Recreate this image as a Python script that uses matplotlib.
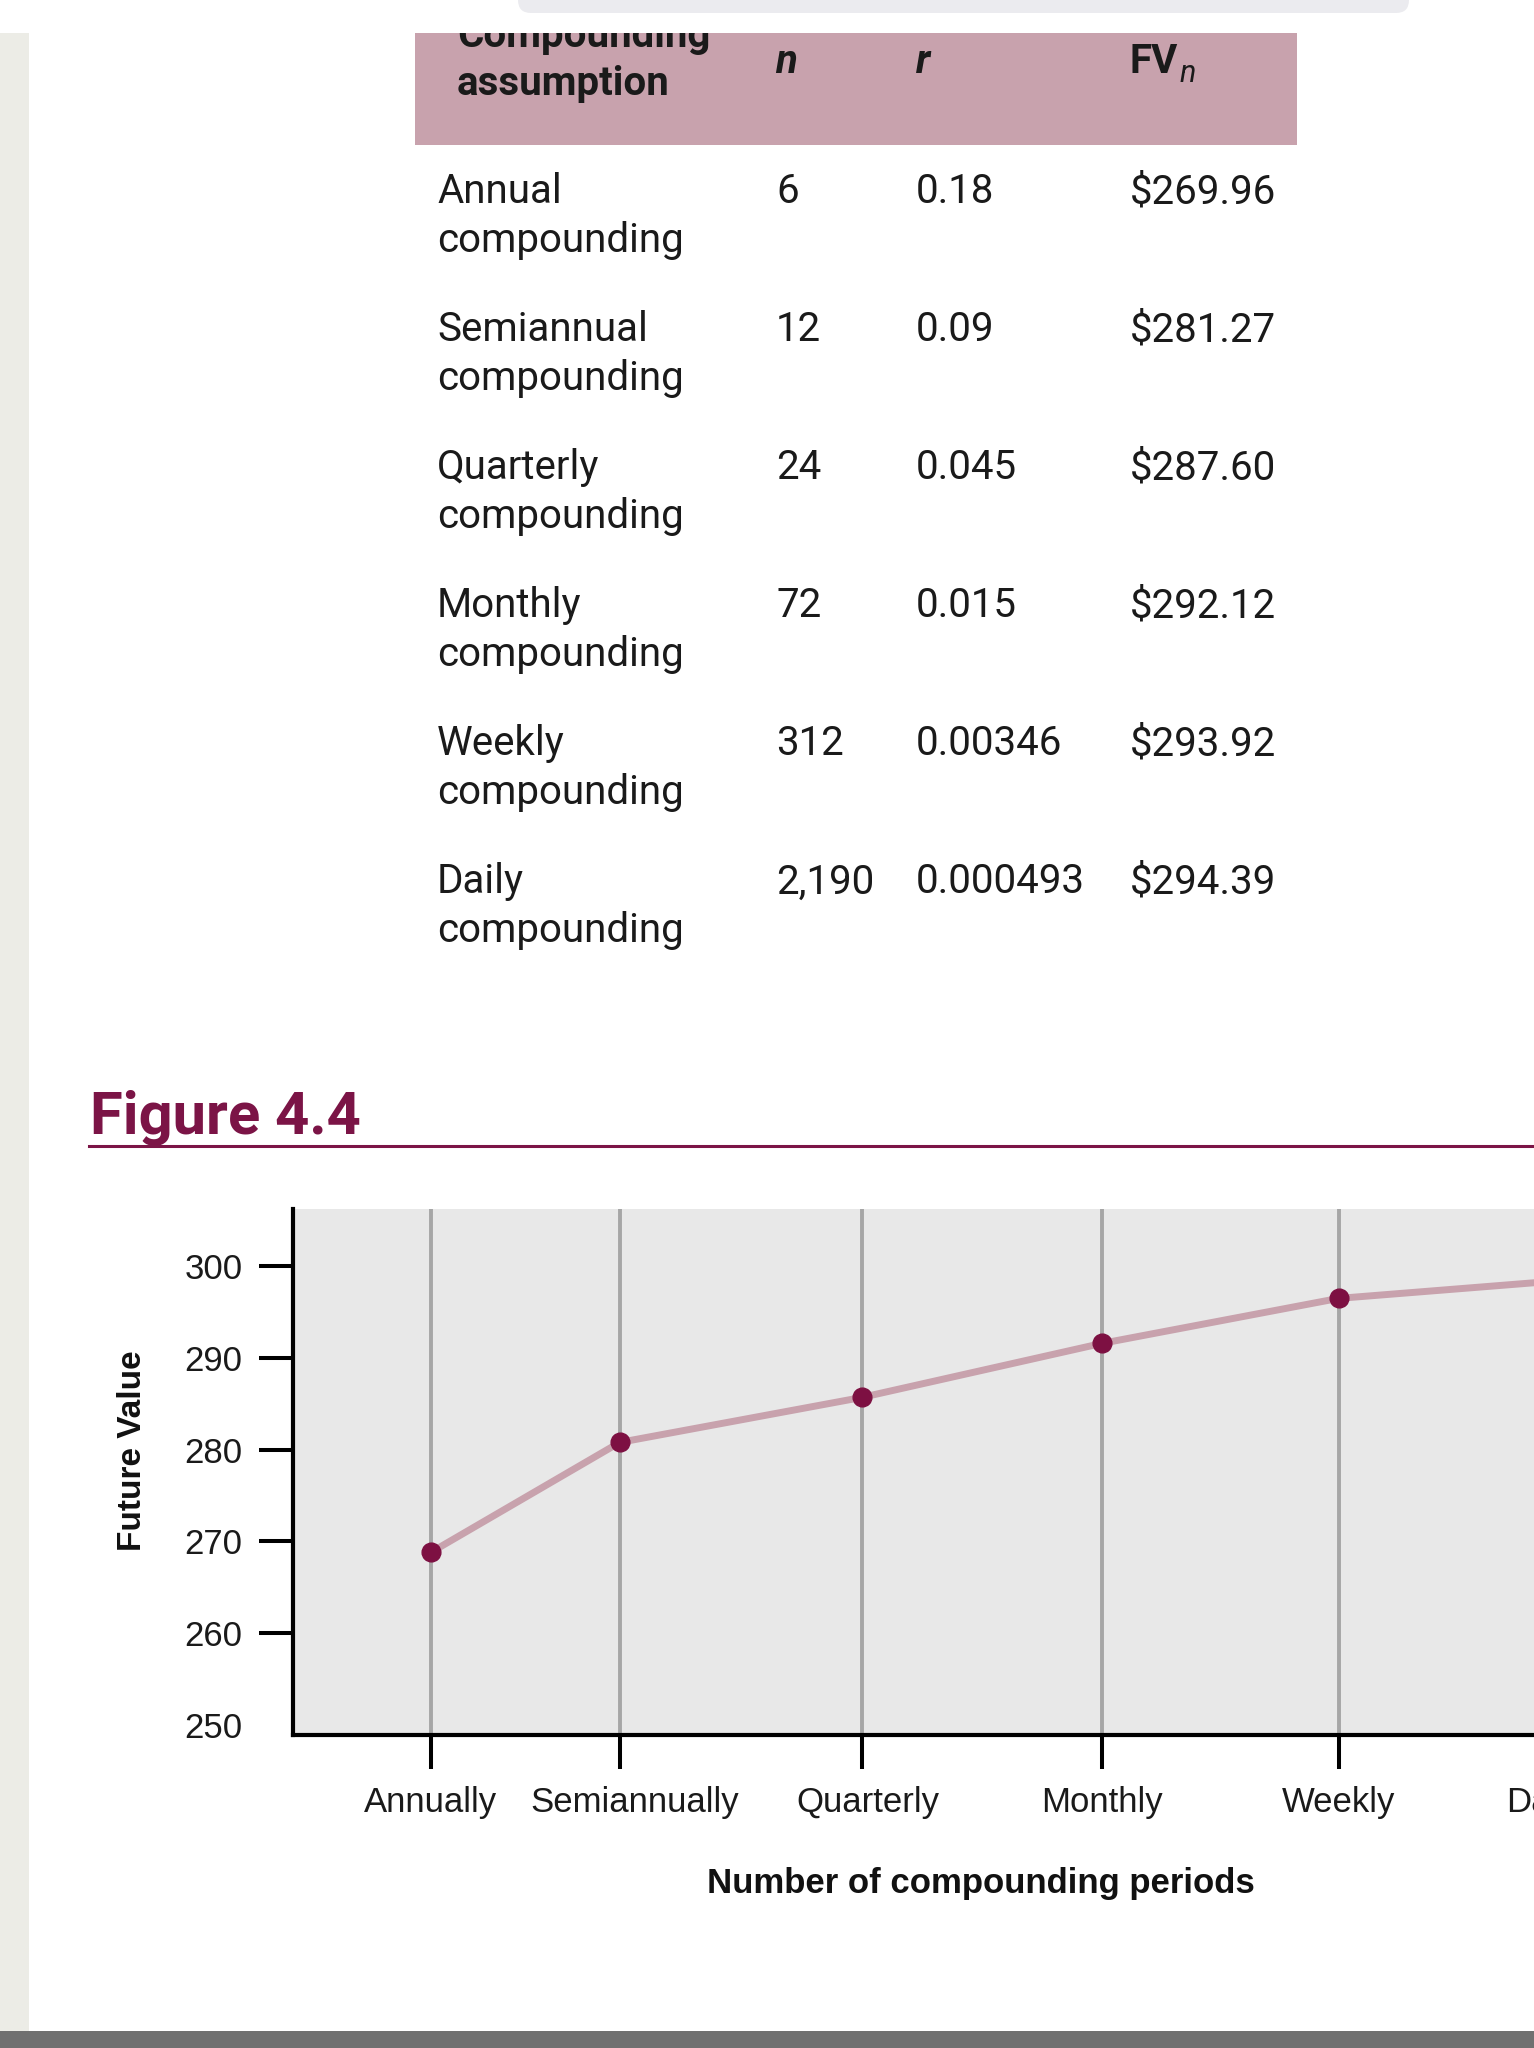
import matplotlib.pyplot as plt
from matplotlib.patches import Rectangle, FancyBboxPatch
from matplotlib.transforms import ScaledTranslation

# table (top part of the page)
row_labels = ["Annual", "Semiannual", "Quarterly", "Monthly", "Weekly", "Daily"]
n_periods = ["6", "12", "24", "72", "312", "2,190"]
rates = ["0.18", "0.09", "0.045", "0.015", "0.00346", "0.000493"]
fv_table = ["$269.96", "$281.27", "$287.60", "$292.12", "$293.92", "$294.39"]

# chart values
periods = ["Annually", "Semiannually", "Quarterly", "Monthly", "Weekly", "Daily"]
period_pos = [0, 0.787, 1.794, 2.794, 3.778, 4.637]
future_value = [268.8, 280.8, 285.7, 291.6, 296.5, 298.3]
y_ticks = [250, 260, 270, 280, 290, 300]

maroon = "#7b1446"
pink = "#c8a2ad"
ink = "#1a1a1a"

W, H = 1534, 2048
fig = plt.figure(figsize=(W / 100, H / 100), dpi=100)

# overlay in pixel units for the page parts
ov = fig.add_axes([0, 0, 1, 1])
ov.set_xlim(0, W)
ov.set_ylim(H, 0)
ov.axis("off")

ov.add_patch(Rectangle((0, 33), 29, 2031 - 33, color="#ecece6", lw=0))
ov.add_patch(Rectangle((0, 2031), W, H - 2031, color="#707070", lw=0))
ov.add_patch(FancyBboxPatch((518, -20), 891, 33, boxstyle="round,pad=0,rounding_size=13",
                            color="#ebebef", lw=0))

head = Rectangle((415, 33), 882, 112, color=pink, lw=0)
ov.add_patch(head)

tfont = dict(family="Roboto", fontsize=29, color=ink, va="baseline")
t1 = ov.text(457, 47, "Compounding", fontweight="bold", **tfont)
t2 = ov.text(457, 95, "assumption", fontweight="bold", **tfont)
t3 = ov.text(775, 73, "n", fontweight="bold", style="italic", **tfont)
t4 = ov.text(916, 73, "r", fontweight="bold", style="italic", **tfont)
t5 = ov.text(1130, 73, "FV", fontweight="bold", **tfont)
t6 = ov.annotate("n", xy=(1, 0), xycoords=t5, xytext=(1, -1), textcoords="offset points",
                 family="Roboto", style="italic", fontsize=22, color=ink, va="baseline")
for t in (t1, t2, t3, t4, t5, t6):
    t.set_clip_on(True)
    t.set_clip_path(head)

for i in range(len(row_labels)):
    y = 203.3 + 138 * i
    ov.text(437, y, row_labels[i], **tfont)
    ov.text(437, y + 48.4, "compounding", **tfont)
    ov.text(776, y, n_periods[i], **tfont)
    ov.text(916, y, rates[i], **tfont)
    ov.text(1130, y, fv_table[i], **tfont)

ov.text(90, 1134, "Figure 4.4", family="Roboto", fontweight="bold", fontsize=43,
        color=maroon, va="baseline")
ov.plot([89, W], [1146, 1146], color=maroon, lw=2.2)

# the chart
x0, x1, ytop, ybot = 293.4, 1700, 1208.5, 1735
ax = fig.add_axes([x0 / W, (H - ybot) / H, (x1 - x0) / W, (ybot - ytop) / H])
ax.set_facecolor("#e8e8e8")
ax.plot(period_pos, future_value, color=pink, lw=5, zorder=3)
ax.plot(period_pos, future_value, "o", color="#7d1042", ms=13.5, zorder=4)
ax.set_xlim(-0.571, 5.282)
ax.set_ylim(248.9, 306.3)
ax.set_xticks(period_pos, periods)
ax.set_yticks(y_ticks)
ax.grid(axis="x", color="#a6a6a6", lw=2.8)
ax.set_axisbelow(True)
ax.tick_params(direction="out", length=24.5, width=2.9, color="black", pad=12,
               labelsize=25, labelcolor="#1a1a1a")
for lab in ax.get_xticklabels() + ax.get_yticklabels():
    lab.set_family("Liberation Sans")
# a couple of the category labels sit a bit right of their tick in the original
xl = ax.get_xticklabels()
for k, dx in ((1, 0.15), (2, 0.06)):
    xl[k].set_transform(xl[k].get_transform() + ScaledTranslation(dx, 0, fig.dpi_scale_trans))
ax.yaxis.get_major_ticks()[0].tick1line.set_visible(False)
for s in ("top", "right"):
    ax.spines[s].set_visible(False)
for s in ("left", "bottom"):
    ax.spines[s].set_linewidth(3)

ax.set_ylabel("Future Value", family="Liberation Sans", fontweight="bold", fontsize=24,
              color="#111111", va="baseline")
ax.yaxis.set_label_coords((141 - x0) / (x1 - x0), (ybot - 1451) / (ybot - ytop))
ax.set_xlabel("Number of compounding periods", family="Liberation Sans", fontweight="bold",
              fontsize=25, color="#111111", va="baseline")
ax.xaxis.set_label_coords((981 - x0) / (x1 - x0), (ybot - 1893) / (ybot - ytop))

fig.savefig("out.png", dpi=100)
